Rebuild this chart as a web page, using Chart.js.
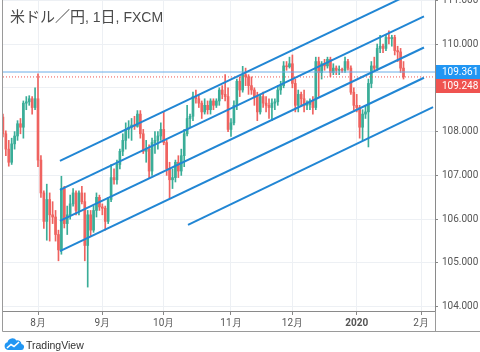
<!DOCTYPE html>
<html>
<head>
<meta charset="utf-8">
<script src="https://cdn.jsdelivr.net/npm/chart.js@4.4.1/dist/chart.umd.min.js"></script>
<style>
  html, body { margin: 0; padding: 0; background: #fff; }
  #wrap { position: relative; width: 480px; height: 352px; overflow: hidden; }
  #chart { position: absolute; left: 0; top: 0; }
  #title { position: absolute; left: 10px; top: 5px; font: 14px "Liberation Sans", "Noto Sans CJK JP", sans-serif; color: #4a4a4a; white-space: nowrap; }
  #title .jp { font-size: 15px; font-family: "Noto Sans CJK JP", sans-serif; }
  #brand { position: absolute; left: 4px; top: 337px; height: 15px; display: flex; align-items: center; }
  #brand span { font: 10.5px "Liberation Sans", Arial, sans-serif; color: #333; margin-left: 2px; }
</style>
</head>
<body>
<div id="wrap">
  <canvas id="chart" width="480" height="352"></canvas>
  <div id="title"><span class="jp">米ドル／円</span>, 1<span class="jp">日</span>, FXCM</div>
  <div id="brand">
    <svg width="20" height="13" viewBox="0 0 20 13">
      <path d="M4 12 A4 4 0 0 1 3.5 4.2 A5 5 0 0 1 12.5 2.5 A4 4 0 0 1 17.5 6 A3 3 0 0 1 16.5 12 Z" fill="#2196f3"/>
      <polyline points="3,10 7,6.5 10,8.5 15,4" fill="none" stroke="#fff" stroke-width="1.6"/>
    </svg>
    <span>TradingView</span>
  </div>
</div>
<script>
document.addEventListener("DOMContentLoaded", () => {
    // --- tick labels ---
    const monthTicks = [0, 22, 43, 66, 87, 109, 131];
    const monthLabels = ['8月', '9月', '10月', '11月', '12月', '2020', '2月'];
    const priceTicks = [104, 105, 106, 107, 108, 109, 110, 111];

    // --- daily candles, first bar = mid July 2019 (index 0 = 8/1) ---
    const firstIndex = -12;
    const opens = [108.33,107.95,107.60,107.30,107.72,107.90,108.18,108.10,108.65,108.68,108.75,108.55,
        108.75,107.35,106.60,105.95,106.45,106.10,106.05,105.65,105.30,106.70,105.90,106.10,106.35,106.60,106.20,106.60,106.40,105.40,106.10,105.75,106.20,106.50,
        106.28,106.25,105.95,106.45,106.95,106.90,107.25,107.55,107.80,108.05,108.10,108.15,108.12,108.40,107.95,107.55,107.60,107.10,107.75,107.80,107.90,
        108.05,107.75,107.15,106.90,106.95,107.30,107.10,107.45,107.95,108.30,108.35,108.80,108.75,108.65,108.45,108.60,108.50,108.70,108.60,108.70,108.95,108.85,108.80,
        108.05,108.20,108.60,109.15,108.95,109.30,109.25,109.05,108.95,108.80,108.45,108.80,108.65,108.60,108.55,108.65,108.68,108.95,109.05,109.50,109.48,
        109.55,109.10,108.60,108.85,108.75,108.60,108.62,108.70,108.55,109.60,109.35,109.55,109.50,109.65,109.35,109.45,109.40,109.42,109.40,109.60,109.45,108.90,
        108.60,108.55,108.10,108.40,108.45,109.10,109.50,109.45,109.90,109.95,109.90,110.15,110.12,110.15,109.85,109.82,109.45];
    const highs = [108.40,108.02,107.80,107.85,108.00,108.25,108.30,108.70,108.80,108.82,108.80,109.00,
        109.32,107.45,106.65,106.80,106.60,106.40,106.20,105.75,106.98,106.75,106.30,106.55,106.70,106.65,106.65,106.75,106.60,106.20,106.20,106.30,106.60,106.55,
        106.35,106.30,106.50,107.25,107.15,107.35,107.60,107.95,108.20,108.25,108.30,108.35,108.48,108.48,108.05,107.80,107.70,107.85,108.00,108.00,108.20,
        108.45,107.80,107.30,107.15,107.35,107.45,107.60,108.05,108.60,108.40,108.90,108.95,108.85,108.70,108.75,108.70,108.75,108.75,108.75,109.00,109.05,109.30,109.00,
        108.30,108.70,109.20,109.25,109.49,109.45,109.30,109.25,109.00,108.90,108.85,108.90,108.80,108.75,108.75,108.75,109.05,109.15,109.60,109.60,109.70,
        109.75,109.20,108.95,108.90,108.95,108.70,108.75,108.80,109.70,109.70,109.60,109.65,109.70,109.70,109.55,109.50,109.50,109.45,109.70,109.65,109.50,109.00,
        108.85,108.60,108.50,108.60,109.20,109.60,109.70,110.00,110.20,110.00,110.20,110.30,110.20,110.20,109.95,109.90,109.60];
    const lows = [107.88,107.45,107.21,107.25,107.60,107.80,107.95,107.85,108.50,108.60,108.40,108.50,
        107.20,106.50,105.79,105.52,105.50,105.90,105.50,105.05,105.20,105.80,105.65,106.00,106.30,106.10,106.10,106.35,105.05,104.45,105.60,105.70,106.05,106.20,
        106.10,105.75,105.90,106.40,106.80,106.80,107.15,107.45,107.60,107.85,107.80,108.05,108.10,107.85,107.50,107.30,106.95,107.00,107.50,107.60,107.80,
        107.70,107.00,106.48,106.70,106.85,106.95,107.00,107.20,107.90,108.10,108.25,108.65,108.55,108.30,108.40,108.40,108.40,108.50,108.55,108.60,108.75,108.70,108.00,
        107.89,108.15,108.50,108.80,108.90,109.05,108.85,108.85,108.60,108.25,108.40,108.55,108.45,108.30,108.25,108.50,108.60,108.85,109.00,109.40,109.45,
        109.00,108.45,108.45,108.60,108.45,108.50,108.50,108.40,108.50,108.80,109.20,109.40,109.45,109.25,109.30,109.30,109.30,109.35,109.35,109.40,108.85,108.50,
        108.45,107.85,107.80,108.30,107.65,109.00,109.40,109.40,109.80,109.80,109.85,110.00,109.95,109.75,109.60,109.35,109.20];
    const closes = [107.95,107.60,107.30,107.72,107.90,108.18,108.10,108.65,108.68,108.75,108.55,108.75,
        107.35,106.60,105.95,106.45,106.10,106.05,105.65,105.30,106.70,105.90,106.10,106.35,106.60,106.20,106.60,106.40,105.40,106.10,105.75,106.20,106.50,106.28,
        106.25,105.95,106.45,106.95,106.90,107.25,107.55,107.80,108.05,108.10,108.15,108.12,108.40,107.95,107.55,107.60,107.10,107.75,107.80,107.90,108.05,
        107.75,107.15,106.90,106.95,107.30,107.10,107.45,107.95,108.30,108.35,108.80,108.75,108.65,108.45,108.60,108.50,108.70,108.60,108.70,108.95,108.85,108.80,108.05,
        108.20,108.60,109.15,108.95,109.30,109.25,109.05,108.95,108.80,108.45,108.80,108.65,108.60,108.55,108.65,108.68,108.95,109.05,109.50,109.48,109.55,
        109.10,108.60,108.85,108.75,108.60,108.62,108.70,108.55,109.60,109.35,109.55,109.50,109.65,109.35,109.45,109.40,109.42,109.40,109.60,109.45,108.90,108.60,
        108.55,108.10,108.40,108.45,109.10,109.50,109.45,109.90,109.95,109.90,110.15,110.12,110.15,109.85,109.82,109.45,109.25];

    // --- parallel channel lines (bar index, price) ---
    const channelX1 = [7.5, 7.5, 7.5, 7.5, 51.3];
    const channelY1 = [107.33, 106.67, 105.96, 105.27, 105.87];
    const channelX2 = [132, 132, 132, 132, 135.1];
    const channelY2 = [111.29, 110.63, 109.92, 109.23, 108.56];

    const markLevel = 109.361;
    const lastPrice = 109.248;

    const upColor = '#3aad98';
    const downColor = '#ef6360';
    const xMin = -11.97, xMax = 135.77;
    const axisFont = 'Roboto, "Liberation Sans", sans-serif';

    const candleColor = (c) => closes[c.dataIndex] >= opens[c.dataIndex] ? upColor : downColor;
    const wicks = opens.map((o, i) => ({ x: firstIndex + i, y: [lows[i], highs[i]] }));
    const bodies = opens.map((o, i) => ({ x: firstIndex + i, y: [o, closes[i]] }));

    const datasets = [
        { type: 'bar', data: wicks, backgroundColor: candleColor, barThickness: 1, grouped: false, order: 11 },
        { type: 'bar', data: bodies, backgroundColor: candleColor, barThickness: 2, minBarLength: 1, grouped: false, order: 10 },
        { type: 'line', data: [{ x: xMin, y: markLevel }, { x: xMax, y: markLevel }],
          borderColor: '#6aaee8', borderWidth: 1, pointRadius: 0, order: 2 },
        { type: 'line', data: [{ x: xMin, y: lastPrice }, { x: xMax, y: lastPrice }],
          borderColor: '#ef5350', borderWidth: 1, borderDash: [1, 2], pointRadius: 0, order: 3 }
    ];
    channelX1.forEach((x1, i) => {
        datasets.push({
            type: 'line',
            data: [{ x: x1, y: channelY1[i] }, { x: channelX2[i], y: channelY2[i] }],
            borderColor: '#2186d4', borderWidth: 2, pointRadius: 0, order: 0
        });
    });

    // frame round the chart
    const frame = {
        id: 'frame',
        afterDraw(chart) {
            const { ctx, chartArea } = chart;
            ctx.save();
            ctx.strokeStyle = '#9a9a9a';
            ctx.lineWidth = 1;
            ctx.beginPath();
            ctx.moveTo(chartArea.left - 0.5, 0);
            ctx.lineTo(chartArea.left - 0.5, 331.5);
            ctx.lineTo(480, 331.5);
            ctx.moveTo(chartArea.right + 0.5, chartArea.bottom);
            ctx.lineTo(chartArea.right + 0.5, 331.5);
            ctx.stroke();
            ctx.restore();
        }
    };

    // price tags on the right axis
    const tags = {
        id: 'tags',
        afterDraw(chart) {
            const { ctx, chartArea } = chart;
            const y = chart.scales.y;
            const yb = y.getPixelForValue(markLevel);
            const yr = Math.max(y.getPixelForValue(lastPrice), yb + 14);
            ctx.save();
            ctx.font = '10px ' + axisFont;
            ctx.textBaseline = 'middle';
            ctx.textAlign = 'left';
            ctx.fillStyle = '#2196f3';
            ctx.fillRect(chartArea.right + 1, yb - 7, 45, 14);
            ctx.fillStyle = '#ef5350';
            ctx.fillRect(chartArea.right + 1, yr - 7, 45, 14);
            ctx.fillStyle = '#fff';
            ctx.fillText(markLevel.toFixed(3), chartArea.right + 7, yb + 0.5);
            ctx.fillText(lastPrice.toFixed(3), chartArea.right + 7, yr + 0.5);
            ctx.restore();
        }
    };

    new Chart(document.getElementById('chart'), {
        type: 'bar',
        data: { datasets: datasets },
        options: {
            responsive: false,
            animation: false,
            layout: { padding: { left: 3, top: 0, right: 0, bottom: 21 } },
            plugins: { legend: { display: false }, tooltip: { enabled: false }, title: { display: false } },
            scales: {
                x: {
                    type: 'linear',
                    min: xMin,
                    max: xMax,
                    offset: false,
                    grid: { offset: false, color: '#edf0f4', tickColor: '#888', tickLength: 4 },
                    border: { display: true, color: '#8a8a8a' },
                    afterBuildTicks: (s) => { s.ticks = monthTicks.map(v => ({ value: v })); },
                    afterFit: (s) => { s.height = 20; s.paddingLeft = 0; s.paddingRight = 0; },
                    ticks: {
                        autoSkip: false,
                        maxRotation: 0,
                        padding: 2,
                        color: '#555',
                        font: (c) => ({ family: axisFont, size: 10,
                            weight: c.tick && c.tick.label === '2020' ? 'bold' : 'normal' }),
                        callback: (v, i) => monthLabels[i]
                    }
                },
                y: {
                    position: 'right',
                    min: 103.904,
                    max: 111.005,
                    beginAtZero: false,
                    grid: { color: '#edf0f4', tickColor: '#888', tickLength: 3 },
                    border: { display: true, color: '#8a8a8a' },
                    afterBuildTicks: (s) => { s.ticks = priceTicks.map(v => ({ value: v })); },
                    afterFit: (s) => { s.width = 45; s.paddingTop = 0; s.paddingBottom = 0; },
                    ticks: {
                        padding: 4,
                        color: '#555',
                        font: { family: axisFont, size: 10 },
                        callback: (v) => Number(v).toFixed(3)
                    }
                }
            }
        },
        plugins: [frame, tags]
    });
});
</script>
</body>
</html>
